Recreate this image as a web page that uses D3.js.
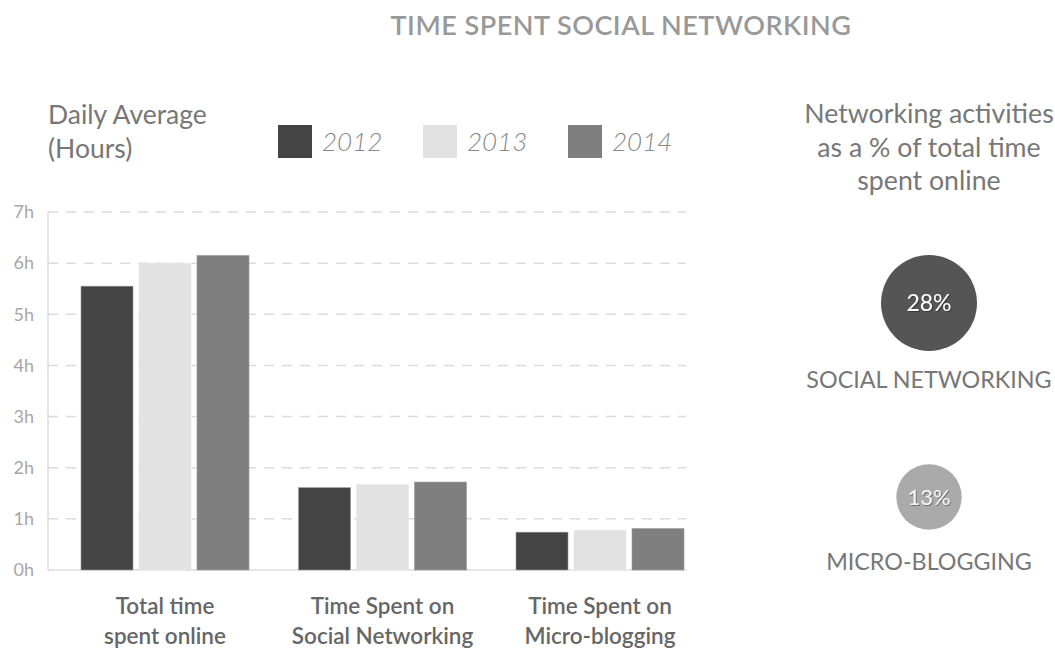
<!DOCTYPE html>
<html>
<head>
<meta charset="utf-8">
<script src="https://cdn.jsdelivr.net/npm/d3@7"></script>
<style>
  html, body { margin: 0; padding: 0; background: #fff; }
  svg { display: block; font-family: Lato, "Open Sans", sans-serif; }
</style>
</head>
<body>
<svg id="chart" width="1055" height="650"></svg>
<script>
const categories = [["Total time", "spent online"], ["Time Spent on", "Social Networking"], ["Time Spent on", "Micro-blogging"]];
const years = ["2012", "2013", "2014"];
const values2012 = [5.55, 1.61, 0.74];
const values2013 = [6.0, 1.67, 0.78];
const values2014 = [6.15, 1.72, 0.81];
const yTicks = [0, 1, 2, 3, 4, 5, 6, 7];
const shareLabels = ["SOCIAL NETWORKING", "MICRO-BLOGGING"];
const shareValues = [28, 13];

const colors = ["#444444", "#e1e2e1", "#7f7f7f"];
const series = [values2012, values2013, values2014];

const svg = d3.select("#chart");

// Title
svg.append("text").attr("x", 621).attr("y", 35).attr("text-anchor", "middle")
  .attr("font-size", 27).attr("font-weight", 600).attr("fill", "#999")
  .attr("letter-spacing", 0.5)
  .text("TIME SPENT SOCIAL NETWORKING");

// Axis title
svg.append("text").attr("x", 48).attr("y", 124).attr("font-size", 26.5).attr("fill", "#777").attr("font-weight", 400)
  .text("Daily Average");
svg.append("text").attr("x", 48).attr("y", 158).attr("font-size", 26.5).attr("fill", "#777").attr("font-weight", 400)
  .text("(Hours)");

// Legend
const legendX = [278, 423, 568];
years.forEach((yr, i) => {
  svg.append("rect").attr("x", legendX[i]).attr("y", 125).attr("width", 34).attr("height", 33).attr("fill", colors[i]);
  svg.append("text").attr("x", legendX[i] + 44).attr("y", 151).attr("font-size", 26).attr("font-style", "italic")
    .attr("font-weight", 300).attr("fill", "#888").text(yr);
});

// Scales
const plotLeft = 48, plotRight = 686, plotTop = 212, plotBottom = 570;
const y = d3.scaleLinear().domain([0, 7]).range([plotBottom, plotTop]);
const x0 = d3.scaleBand().domain(d3.range(categories.length)).range([81, 684]).paddingInner(0.2276).paddingOuter(0);
const x1 = d3.scaleBand().domain(d3.range(years.length)).range([0, x0.bandwidth()]).paddingInner(0.1034);

// Gridlines
const grid = svg.append("g");
grid.selectAll("line").data(yTicks.filter(d => d > 0)).join("line")
  .attr("x1", plotLeft).attr("x2", plotRight)
  .attr("y1", d => y(d)).attr("y2", d => y(d))
  .attr("stroke", "#dcdcdc").attr("stroke-width", 1.5).attr("stroke-dasharray", "10,8");

// Y axis
const yAxis = svg.append("g").attr("transform", `translate(${plotLeft},0)`)
  .call(d3.axisLeft(y).tickValues(yTicks).tickFormat(d => d + "h").tickSize(0).tickPadding(14));
yAxis.select(".domain").remove();
yAxis.selectAll("text").attr("font-size", 18).attr("fill", "#a6a6a6").attr("font-family", "Lato, sans-serif").attr("font-weight", 400);

svg.append("line").attr("x1", plotLeft).attr("x2", plotLeft).attr("y1", plotTop).attr("y2", plotBottom)
  .attr("stroke", "#dcdcdc").attr("stroke-width", 1.5);
svg.append("line").attr("x1", plotLeft).attr("x2", plotRight).attr("y1", plotBottom).attr("y2", plotBottom)
  .attr("stroke", "#dcdcdc").attr("stroke-width", 1.5);

// Bars
const groups = svg.append("g").selectAll("g").data(categories).join("g")
  .attr("transform", (d, i) => `translate(${x0(i)},0)`);
groups.selectAll("rect").data((d, i) => series.map((s, j) => ({ v: s[i], j }))).join("rect")
  .attr("x", d => x1(d.j)).attr("width", x1.bandwidth())
  .attr("y", d => y(d.v)).attr("height", d => y(0) - y(d.v))
  .attr("fill", d => colors[d.j])
  .attr("stroke", d => d.j === 1 ? "#e8e8e8" : "#9a9a9a").attr("stroke-width", 0.6);

// Category labels
groups.each(function(d) {
  const g = d3.select(this);
  d.forEach((line, k) => {
    g.append("text").attr("x", x0.bandwidth() / 2).attr("y", 614 + k * 30)
      .attr("text-anchor", "middle").attr("font-size", 22.5).attr("font-weight", 600).attr("fill", "#666")
      .text(line);
  });
});

// Right panel
const cx = 929;
["Networking activities", "as a % of total time", "spent online"].forEach((t, k) => {
  svg.append("text").attr("x", cx).attr("y", 123 + k * 33.5).attr("text-anchor", "middle")
    .attr("font-size", 26.7).attr("font-weight", 400).attr("fill", "#777").text(t);
});

const r = d3.scaleSqrt().domain([0, 28]).range([0, 48]);
const circleY = [303, 497];
const labelY = [388, 570];
const circleColors = ["#555555", "#aaaaaa"];
const defs = svg.append("defs");
defs.append("filter").attr("id", "ts").append("feDropShadow")
  .attr("dx", 1).attr("dy", 1).attr("stdDeviation", 0.6).attr("flood-color", "#000").attr("flood-opacity", 0.35);

shareValues.forEach((v, i) => {
  svg.append("circle").attr("cx", cx).attr("cy", circleY[i]).attr("r", r(v)).attr("fill", circleColors[i]);
  svg.append("text").attr("x", cx).attr("y", circleY[i] + 8).attr("text-anchor", "middle")
    .attr("font-size", i === 0 ? 23 : 22).attr("font-weight", 400).attr("fill", i === 0 ? "#fff" : "#f4f4f4")
    .attr("filter", "url(#ts)").text(v + "%");
  svg.append("text").attr("x", cx).attr("y", labelY[i]).attr("text-anchor", "middle")
    .attr("font-size", 23.3).attr("font-weight", 400).attr("fill", "#777").text(shareLabels[i]);
});
</script>
</body>
</html>
